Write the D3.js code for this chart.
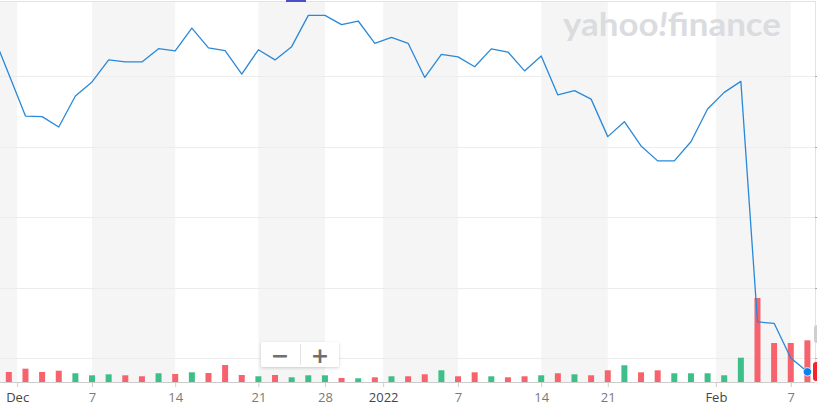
<!DOCTYPE html>
<html><head><meta charset="utf-8">
<script src="https://cdn.jsdelivr.net/npm/d3@7"></script>
<style>
html,body{margin:0;padding:0;background:#fff;overflow:hidden;}
svg{display:block;}
</style></head>
<body>
<svg id="chart" width="817" height="415"></svg>
<script>
// Trading days shown (META, daily)
const days = ["2021-11-29","2021-11-30","2021-12-01","2021-12-02","2021-12-03","2021-12-06","2021-12-07","2021-12-08","2021-12-09","2021-12-10","2021-12-13","2021-12-14","2021-12-15","2021-12-16","2021-12-17","2021-12-20","2021-12-21","2021-12-22","2021-12-23","2021-12-27","2021-12-28","2021-12-29","2021-12-30","2021-12-31","2022-01-03","2022-01-04","2022-01-05","2022-01-06","2022-01-07","2022-01-10","2022-01-11","2022-01-12","2022-01-13","2022-01-14","2022-01-18","2022-01-19","2022-01-20","2022-01-21","2022-01-24","2022-01-25","2022-01-26","2022-01-27","2022-01-28","2022-01-31","2022-02-01","2022-02-02","2022-02-03","2022-02-04","2022-02-07","2022-02-08"];
// Close price (USD)
const closes = [340.4,325.6,310.8,310.6,306.9,317.9,322.9,330.7,330.0,330.0,334.7,333.9,342.0,335.0,334.0,325.7,334.3,330.7,335.4,346.5,346.5,343.2,344.5,336.6,338.7,336.6,324.5,332.7,331.8,328.3,334.6,333.5,326.8,332.1,318.3,319.8,316.8,303.5,308.8,300.2,294.9,294.9,301.7,313.3,319.2,323.1,237.8,237.3,225.0,220.1];
// Volume (millions of shares)
const volumes = [20,22.4,29.8,22.4,25.3,19.5,15.0,17.2,15.0,12.8,19.5,17.9,21.7,20.1,38.0,15.7,12.8,15.7,10.5,15.0,15.0,9.0,8.3,10.5,12.8,12.8,17.2,26.2,12.8,21.7,12.8,10.5,12.8,15.0,19.5,17.2,15.0,26.2,37.4,21.7,26.2,19.5,19.5,19.5,15.0,54.4,188,87.3,87.3,93.3];
// Day direction (1 = up / green, 0 = down / red)
const upDay = [0,0,0,0,0,1,1,1,0,0,1,0,1,0,0,0,1,0,1,1,1,0,1,0,1,0,0,1,0,0,1,0,0,1,0,1,0,0,1,0,0,1,1,1,1,1,0,0,0,0];
// Price grid levels
const priceGrid = [225,250,275,300,325];
// X-axis ticks: date, label, month/year start
const tickDates  = ["2021-12-01","2021-12-07","2021-12-14","2021-12-21","2021-12-28","2022-01-03","2022-01-07","2022-01-14","2022-01-21","2022-02-01","2022-02-07"];
const tickLabels = ["Dec","7","14","21","28","2022","7","14","21","Feb","7"];
const tickMajor  = [true,false,false,false,false,true,false,false,false,true,false];

const W = 817, H = 415;
const plotRight = 815, axisY = 382, plotTop = 2;
const svg = d3.select("#chart");

const x = d3.scaleLinear().domain([0, days.length - 1]).range([-7.8, 807.4]);
const y = d3.scaleLinear().domain([225, 325]).range([358, 76]);
const yv = d3.scaleLinear().domain([0, 188]).range([axisY, 298]);

const tickPos = tickDates.map((d, i) => days.indexOf(d) - (tickMajor[i] ? 0.5 : 0));

const defs = svg.append("defs");
defs.append("clipPath").attr("id","plotclip").append("rect")
  .attr("x",0).attr("y",plotTop).attr("width",plotRight).attr("height",axisY-plotTop);
const f = defs.append("filter").attr("id","shadow").attr("x","-20%").attr("y","-30%").attr("width","140%").attr("height","170%");
f.append("feDropShadow").attr("dx",0).attr("dy",1).attr("stdDeviation",1.6).attr("flood-color","#000").attr("flood-opacity",0.18);

// alternating bands between ticks
const bandEdges = [0, ...tickPos.map(p => x(p)), plotRight];
const bands = [];
for (let i = 0; i < bandEdges.length - 1; i++) {
  if (i % 2 === 0) bands.push([bandEdges[i], bandEdges[i+1]]);
}
svg.append("g").selectAll("rect").data(bands).join("rect")
  .attr("x", d => d[0]).attr("y", plotTop)
  .attr("width", d => d[1] - d[0]).attr("height", axisY - plotTop)
  .attr("fill", "#f5f5f5");

// top border + right border
svg.append("line").attr("x1",0).attr("x2",plotRight).attr("y1",1.5).attr("y2",1.5)
  .attr("stroke","#e3e3e3").attr("stroke-width",1);
svg.append("line").attr("x1",plotRight+0.5).attr("x2",plotRight+0.5).attr("y1",1).attr("y2",axisY)
  .attr("stroke","#e3e3e3").attr("stroke-width",1);

// horizontal grid
const gGrid = svg.append("g");
gGrid.selectAll("line.g").data(priceGrid).join("line").attr("class","g")
  .attr("x1",0).attr("x2",plotRight)
  .attr("y1", d => Math.round(y(d)) + 0.5).attr("y2", d => Math.round(y(d)) + 0.5)
  .attr("stroke","#ececec").attr("stroke-width",1);
gGrid.selectAll("line.t").data(priceGrid).join("line").attr("class","t")
  .attr("x1",plotRight).attr("x2",W)
  .attr("y1", d => Math.round(y(d)) + 0.5).attr("y2", d => Math.round(y(d)) + 0.5)
  .attr("stroke","#a8a8a8").attr("stroke-width",1);

// watermark
const wm = svg.append("text").attr("x",563).attr("y",35.5)
  .attr("font-family","Lato, 'Open Sans', sans-serif").attr("font-weight","bold")
  .attr("font-size",32).attr("fill","#dadce0")
  .attr("textLength",218).attr("lengthAdjust","spacingAndGlyphs");
wm.append("tspan").text("yahoo");
wm.append("tspan").attr("font-style","italic").text("!");
wm.append("tspan").text("finance");

// event marker at top
svg.append("rect").attr("x",286).attr("y",0).attr("width",20).attr("height",2).attr("fill","#4b4fc8");

// volume bars
const idx = d3.range(days.length);
svg.append("g").attr("clip-path","url(#plotclip)").selectAll("rect").data(idx).join("rect")
  .attr("x", i => x(i) - 3).attr("width", 6)
  .attr("y", i => yv(volumes[i])).attr("height", i => axisY - yv(volumes[i]))
  .attr("fill", i => upDay[i] ? "#3cbf88" : "#f6636d");

// price line
const line = d3.line().x(i => x(i)).y(i => y(closes[i]));
svg.append("path").datum(idx).attr("clip-path","url(#plotclip)")
  .attr("d", line).attr("fill","none").attr("stroke","#2a88d8").attr("stroke-width",1.3)
  .attr("stroke-linejoin","round");

// last point dot
const last = days.length - 1;
svg.append("circle").attr("cx", x(last)).attr("cy", y(closes[last])).attr("r",4.2)
  .attr("fill","#0b82f0").attr("stroke","#fff").attr("stroke-width",0.8);

// right edge: handle and price tag (cut off)
svg.append("rect").attr("x",814).attr("y",325).attr("width",10).attr("height",18).attr("rx",3).attr("fill","#cfcfcf");
svg.append("rect").attr("x",813).attr("y",362).attr("width",30).attr("height",19).attr("rx",3).attr("fill","#f7232b");

// x axis
const xAxis = d3.axisBottom(x).tickValues(tickPos).tickSize(5).tickPadding(6)
  .tickFormat((d, i) => tickLabels[i]);
const gx = svg.append("g").attr("transform", `translate(0,${axisY})`).call(xAxis);
gx.select(".domain").attr("d", `M0,0.5H${plotRight}`).attr("stroke","#cccccc");
gx.selectAll(".tick line").attr("stroke","#cccccc");
gx.selectAll(".tick text")
  .attr("font-family","'Open Sans', sans-serif").attr("font-size",13)
  .attr("fill", (d, i) => tickMajor[i] ? "#464646" : "#7a7a7a")
  .attr("dy", "0.71em");

// zoom control
const zc = svg.append("g");
zc.append("rect").attr("x",261).attr("y",342).attr("width",78).attr("height",25).attr("rx",2)
  .attr("fill","#fff").attr("filter","url(#shadow)");
zc.append("line").attr("x1",300.5).attr("x2",300.5).attr("y1",344).attr("y2",365).attr("stroke","#e4e4e4");
zc.append("text").attr("x",280).attr("y",355).attr("text-anchor","middle").attr("dominant-baseline","central")
  .attr("font-family","'DejaVu Sans', sans-serif").attr("font-weight","bold").attr("font-size",22).attr("fill","#6f6f6f").text("−");
zc.append("text").attr("x",320).attr("y",355).attr("text-anchor","middle").attr("dominant-baseline","central")
  .attr("font-family","'DejaVu Sans', sans-serif").attr("font-weight","bold").attr("font-size",22).attr("fill","#6f6f6f").text("+");
</script>
</body></html>
